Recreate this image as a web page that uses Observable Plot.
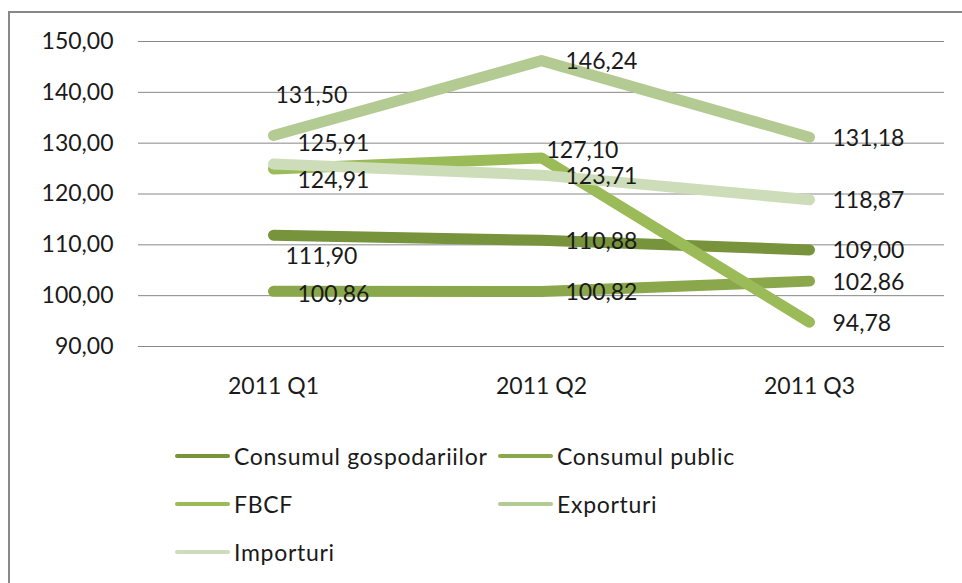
<!DOCTYPE html>
<html>
<head>
<meta charset="utf-8">
<script src="https://cdn.jsdelivr.net/npm/d3@7"></script>
<script src="https://cdn.jsdelivr.net/npm/@observablehq/plot@0.6"></script>
<style>
  html, body { margin: 0; padding: 0; background: #fff; overflow: hidden; }
  #wrap { position: relative; width: 962px; height: 583px; overflow: hidden; font-family: Lato, "Open Sans", sans-serif; color: #1a1a1a; }
  #frame { position: absolute; left: 8px; top: 11px; width: 1100px; height: 700px; border-left: 2px solid #888; border-top: 2px solid #888; box-sizing: border-box; }
  #chart { position: absolute; left: 0; top: 0; }
  #legend { position: absolute; left: 175px; top: 432px; display: grid; grid-template-columns: 323px 300px; row-gap: 0; }
  .item { display: flex; align-items: center; height: 48px; font-size: 23px; white-space: nowrap; letter-spacing: 0.7px; }
  .swatch { display: inline-block; width: 55px; height: 4px; border-radius: 2px; margin-right: 4px; }
</style>
</head>
<body>
<div id="wrap">
  <div id="frame"></div>
  <div id="chart"></div>
  <div id="legend"></div>
</div>
<script>
const categories = ["2011 Q1", "2011 Q2", "2011 Q3"];
const seriesNames = ["Consumul gospodariilor", "Consumul public", "FBCF", "Exporturi", "Importuri"];
const consumulGospodariilor = [111.90, 110.88, 109.00];
const consumulPublic = [100.86, 100.82, 102.86];
const fbcf = [124.91, 127.10, 94.78];
const exporturi = [131.50, 146.24, 131.18];
const importuri = [125.91, 123.71, 118.87];
const yTicks = [90, 100, 110, 120, 130, 140, 150];

const colors = ["#77933C", "#8AA74B", "#9BBB59", "#B4CA93", "#CDDDB9"];
// label placement offsets [dx, dy] per series per category (layout only)
const labelOffsets = [
  [[12, 21], [24, 1], [23, 1]],
  [[24, 3], [24, 1], [23, 1]],
  [[24, 12], [5, -7], [23, 1]],
  [[2, -40], [24, 1], [23, 1]],
  [[24, -20], [24, 1], [23, 1]]
];

const seriesValues = [consumulGospodariilor, consumulPublic, fbcf, exporturi, importuri];
const rows = [];
seriesNames.forEach((s, i) => {
  categories.forEach((c, j) => {
    rows.push({series: s, cat: c, value: seriesValues[i][j], dx: labelOffsets[i][j][0], dy: labelOffsets[i][j][1]});
  });
});

const fmt = v => d3.format(".2f")(v).replace(".", ",");

const labelMarks = rows.map(r => Plot.text([r], {
  x: "cat", y: "value", text: d => fmt(d.value),
  dx: r.dx, dy: r.dy, textAnchor: "start", fill: "#1a1a1a", fontSize: 23
}));

const chart = Plot.plot({
  width: 962,
  height: 420,
  marginLeft: 138,
  marginRight: 18,
  marginTop: 41,
  marginBottom: 74,
  style: {fontFamily: "Lato, 'Open Sans', sans-serif", fontSize: "23px", color: "#1a1a1a", background: "transparent"},
  x: {type: "point", domain: categories, padding: 0.5},
  y: {domain: [90, 150]},
  color: {domain: seriesNames, range: colors},
  marks: [
    Plot.gridY(yTicks, {stroke: "#888", strokeOpacity: 1, strokeWidth: 1}),
    Plot.axisY(yTicks, {tickSize: 0, tickPadding: 25, tickFormat: fmt, label: null, fontSize: 23}),
    Plot.axisX({tickSize: 0, tickPadding: 31, label: null, fontSize: 23}),
    Plot.line(rows, {x: "cat", y: "value", z: "series", stroke: "series", strokeWidth: 11, strokeLinecap: "round", strokeLinejoin: "round"}),
    ...labelMarks
  ]
});
document.getElementById("chart").appendChild(chart);

const legend = document.getElementById("legend");
seriesNames.forEach((s, i) => {
  const item = document.createElement("div");
  item.className = "item";
  const sw = document.createElement("span");
  sw.className = "swatch";
  sw.style.background = colors[i];
  item.appendChild(sw);
  item.appendChild(document.createTextNode(s));
  legend.appendChild(item);
});
</script>
</body>
</html>
